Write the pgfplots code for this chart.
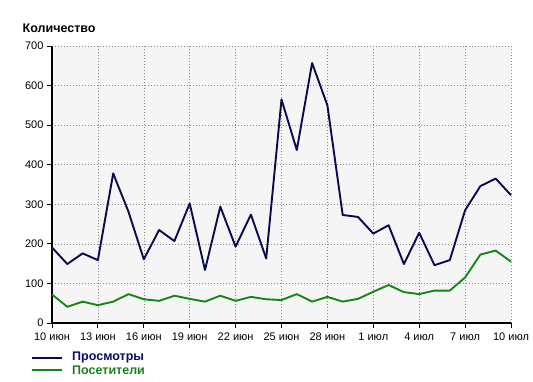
\documentclass[border=0pt]{standalone}
\usepackage{pgfplots}
\pgfplotsset{compat=1.18}
\usepackage{fontspec}
\setmainfont{Liberation Sans}
\definecolor{navyline}{RGB}{10,10,80}
\definecolor{greenline}{RGB}{20,135,20}
\definecolor{bggray}{RGB}{245,245,245}
\definecolor{navytext}{RGB}{10,10,110}
\definecolor{greentext}{RGB}{25,130,25}
\begin{document}
\begin{tikzpicture}
\path[use as bounding box] (-52bp,-59bp) rectangle (481bp,323bp);
\begin{axis}[
  at={(0,0)}, anchor=south west,
  scale only axis, width=459bp, height=277bp,
  xmin=0, xmax=30, ymin=0, ymax=700,
  xtick={0,3,...,30},
  xticklabels={10 июн,13 июн,16 июн,19 июн,22 июн,25 июн,28 июн,1 июл,4 июл,7 июл,10 июл},
  ytick={0,100,...,700},
  /pgf/number format/assume math mode=true,
  ticklabel style={font=\fontsize{11bp}{13bp}\selectfont},
  separate axis lines,
  axis x line*=bottom, axis y line*=left,
  axis line style={-, line width=2.2bp, black},
  tick align=outside,
  major tick length=5bp,
  tick style={black, line width=0.9bp},
  xtick pos=bottom, ytick pos=left,
  grid=major,
  grid style={gray!90, line width=0.6bp, dash pattern=on 0.8bp off 2.2bp},
  axis background/.style={fill=bggray},
  xticklabel style={yshift=-1bp},
  clip=false,
]
\addplot[navyline, line width=1.9bp, mark=none, line join=round] coordinates {
(0,191)(1,149)(2,176)(3,159)(4,378)(5,281)(6,161)(7,235)(8,207)(9,302)
(10,134)(11,294)(12,193)(13,274)(14,163)(15,565)(16,437)(17,657)(18,550)(19,273)
(20,268)(21,226)(22,247)(23,149)(24,228)(25,146)(26,159)(27,285)(28,346)(29,365)(30,323)};
\addplot[greenline, line width=1.9bp, mark=none, line join=round] coordinates {
(0,72)(1,41)(2,54)(3,45)(4,54)(5,73)(6,60)(7,56)(8,69)(9,61)
(10,54)(11,69)(12,56)(13,66)(14,60)(15,58)(16,73)(17,54)(18,66)(19,54)
(20,61)(21,79)(22,96)(23,78)(24,73)(25,82)(26,82)(27,115)(28,173)(29,183)(30,155)};
\end{axis}
\node[anchor=base west, inner sep=0pt, font=\fontsize{12.5bp}{14bp}\selectfont\bfseries] at (-29.5bp,290bp) {Количество};
\draw[navyline, line width=1.9bp] (-20bp,-34.7bp) -- (10bp,-34.7bp);
\draw[greenline, line width=1.9bp] (-20bp,-47.3bp) -- (10bp,-47.3bp);
\node[anchor=west, inner sep=0pt, font=\fontsize{12.5bp}{14bp}\selectfont\bfseries, text=navytext] at (20bp,-34.7bp) {Просмотры};
\node[anchor=west, inner sep=0pt, font=\fontsize{12.5bp}{14bp}\selectfont\bfseries, text=greentext] at (20bp,-47.3bp) {Посетители};
\end{tikzpicture}
\end{document}
